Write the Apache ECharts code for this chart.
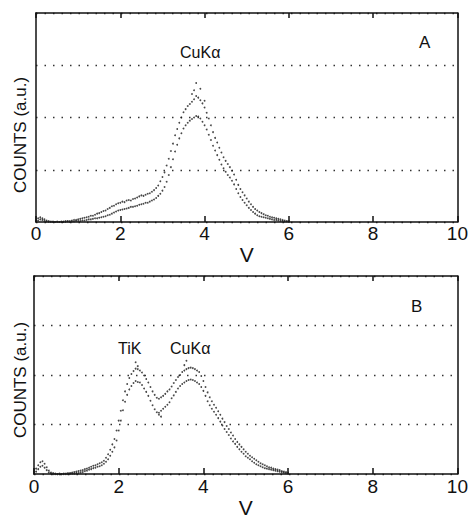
<!DOCTYPE html>
<html>
<head>
<meta charset="utf-8">
<script src="https://cdn.jsdelivr.net/npm/echarts@6/dist/echarts.min.js"></script>
<style>
  html, body { margin: 0; padding: 0; background: #fff; }
  #chart { width: 471px; height: 519px; }
</style>
</head>
<body>
<div id="chart"></div>
<script>
// pulse height (V), read every 0.05 V from 0 to 6
var volts = [
  0.00,0.05,0.10,0.15,0.20,0.25,0.30,0.35,0.40,0.45,
  0.50,0.55,0.60,0.65,0.70,0.75,0.80,0.85,0.90,0.95,
  1.00,1.05,1.10,1.15,1.20,1.25,1.30,1.35,1.40,1.45,
  1.50,1.55,1.60,1.65,1.70,1.75,1.80,1.85,1.90,1.95,
  2.00,2.05,2.10,2.15,2.20,2.25,2.30,2.35,2.40,2.45,
  2.50,2.55,2.60,2.65,2.70,2.75,2.80,2.85,2.90,2.95,
  3.00,3.05,3.10,3.15,3.20,3.25,3.30,3.35,3.40,3.45,
  3.50,3.55,3.60,3.65,3.70,3.75,3.80,3.85,3.90,3.95,
  4.00,4.05,4.10,4.15,4.20,4.25,4.30,4.35,4.40,4.45,
  4.50,4.55,4.60,4.65,4.70,4.75,4.80,4.85,4.90,4.95,
  5.00,5.05,5.10,5.15,5.20,5.25,5.30,5.35,5.40,5.45,
  5.50,5.55,5.60,5.65,5.70,5.75,5.80,5.85,5.90,5.95,
  6.00
];

// panel A : CuKa only (counts, a.u.)
var upperA = [
  0.03,0.07,0.09,0.07,0.05,0.03,0.02,0.01,0.01,0.00,
  0.01,0.00,0.01,0.01,0.02,0.02,0.02,0.03,0.04,0.04,
  0.05,0.06,0.07,0.08,0.09,0.10,0.12,0.12,0.14,0.16,
  0.17,0.19,0.21,0.22,0.25,0.27,0.30,0.31,0.34,0.36,
  0.37,0.39,0.38,0.41,0.42,0.41,0.44,0.45,0.47,0.49,
  0.51,0.50,0.52,0.54,0.55,0.58,0.61,0.65,0.70,0.78,
  0.86,0.95,1.08,1.21,1.36,1.50,1.66,1.78,1.90,2.00,
  2.10,2.16,2.22,2.26,2.30,2.35,2.41,2.38,2.33,2.27,
  2.19,2.09,1.98,1.85,1.72,1.61,1.52,1.42,1.33,1.24,
  1.17,1.11,1.05,0.98,0.91,0.81,0.71,0.63,0.57,0.51,
  0.45,0.39,0.34,0.29,0.25,0.22,0.19,0.17,0.15,0.13,
  0.12,0.10,0.09,0.08,0.07,0.06,0.05,0.04,0.03,0.02,
  0.02
];
var lowerA = [
  0.01,0.03,0.05,0.04,0.02,0.01,0.00,0.00,0.00,0.00,
  0.00,0.00,0.00,0.00,0.00,0.01,0.00,0.01,0.01,0.02,
  0.02,0.02,0.03,0.03,0.04,0.05,0.05,0.06,0.07,0.07,
  0.08,0.09,0.10,0.11,0.13,0.14,0.16,0.18,0.20,0.22,
  0.23,0.24,0.25,0.26,0.27,0.29,0.29,0.30,0.31,0.33,
  0.34,0.35,0.37,0.37,0.39,0.41,0.43,0.46,0.50,0.54,
  0.60,0.67,0.77,0.90,1.05,1.20,1.35,1.48,1.60,1.70,
  1.79,1.85,1.90,1.94,1.97,2.00,2.03,2.02,1.98,1.92,
  1.85,1.77,1.67,1.57,1.46,1.37,1.28,1.19,1.10,1.03,
  0.96,0.90,0.85,0.79,0.72,0.63,0.55,0.48,0.42,0.37,
  0.32,0.27,0.23,0.19,0.16,0.13,0.11,0.10,0.09,0.08,
  0.07,0.06,0.05,0.04,0.04,0.03,0.02,0.02,0.01,0.01,
  0.00
];
var strayA = [[3.80, 2.66], [3.75, 2.52], [3.90, 2.55], [3.70, 2.45], [4.00, 2.32]];

// panel B : TiK + CuKa
var upperB = [
  0.05,0.11,0.18,0.24,0.26,0.21,0.14,0.07,0.03,0.02,
  0.01,0.00,0.01,0.00,0.01,0.01,0.02,0.02,0.03,0.04,
  0.05,0.06,0.07,0.08,0.10,0.11,0.13,0.15,0.17,0.18,
  0.20,0.22,0.24,0.27,0.33,0.40,0.49,0.60,0.71,0.88,
  1.08,1.28,1.49,1.67,1.82,1.94,2.02,2.08,2.13,2.12,
  2.09,2.05,1.99,1.92,1.85,1.76,1.67,1.60,1.54,1.52,
  1.55,1.58,1.62,1.67,1.71,1.77,1.84,1.90,1.96,2.00,
  2.06,2.09,2.12,2.14,2.15,2.14,2.12,2.09,2.06,1.98,
  1.88,1.76,1.65,1.55,1.47,1.40,1.34,1.27,1.20,1.12,
  1.05,0.97,0.91,0.84,0.78,0.71,0.65,0.60,0.55,0.50,
  0.45,0.41,0.37,0.34,0.31,0.28,0.25,0.22,0.20,0.18,
  0.16,0.14,0.13,0.11,0.10,0.09,0.08,0.06,0.05,0.04,
  0.03
];
var lowerB = [
  0.01,0.05,0.10,0.15,0.17,0.13,0.08,0.03,0.01,0.00,
  0.00,0.00,0.00,0.00,0.00,0.00,0.00,0.01,0.01,0.01,
  0.02,0.02,0.03,0.04,0.06,0.07,0.09,0.10,0.12,0.13,
  0.15,0.16,0.18,0.21,0.25,0.30,0.37,0.45,0.54,0.68,
  0.88,1.08,1.29,1.46,1.60,1.71,1.78,1.84,1.88,1.86,
  1.85,1.80,1.73,1.66,1.58,1.48,1.39,1.31,1.25,1.24,
  1.28,1.32,1.36,1.40,1.45,1.53,1.59,1.66,1.73,1.78,
  1.82,1.85,1.88,1.90,1.91,1.90,1.88,1.85,1.82,1.76,
  1.68,1.58,1.47,1.39,1.32,1.26,1.20,1.13,1.06,0.98,
  0.91,0.85,0.79,0.72,0.66,0.61,0.55,0.50,0.45,0.41,
  0.36,0.33,0.30,0.26,0.23,0.20,0.18,0.16,0.14,0.12,
  0.11,0.10,0.09,0.08,0.07,0.06,0.05,0.04,0.03,0.02,
  0.01
];
var strayB = [[2.40, 2.26], [2.45, 2.18], [3.60, 2.29], [3.55, 2.20], [2.95, 1.20], [3.00, 1.16]];

var xTicks = [0, 2, 4, 6, 8, 10];

var chart = echarts.init(document.getElementById('chart'), null, { renderer: 'svg' });

var ink = '#111';
var font = 'Liberation Sans';

function pairs(ys) {
  return volts.map(function (v, i) { return [v, ys[i]]; });
}

function bottomAxis(grid, margin) {
  return {
    gridIndex: grid, type: 'value', min: 0, max: 10, interval: 2,
    name: 'V', nameLocation: 'middle', nameGap: 19,
    nameTextStyle: { color: ink, fontSize: 21, fontFamily: font },
    axisLine: { show: true, onZero: false, lineStyle: { color: ink, width: 1.5 } },
    axisTick: { show: true, inside: true, length: 6, lineStyle: { color: ink, width: 1.5 } },
    axisLabel: { color: ink, fontSize: 19, fontFamily: font, margin: margin,
      formatter: function (v) { return xTicks.indexOf(v) >= 0 ? String(v) : ''; } },
    splitLine: { show: false }
  };
}
function topAxis(grid) {
  return {
    gridIndex: grid, type: 'value', min: 0, max: 10, interval: 2, position: 'top',
    axisLine: { show: true, onZero: false, lineStyle: { color: ink, width: 1.5 } },
    axisTick: { show: true, inside: true, length: 5, lineStyle: { color: ink, width: 1.5 } },
    axisLabel: { show: false },
    splitLine: { show: false }
  };
}
function leftAxis(grid) {
  return {
    gridIndex: grid, type: 'value', min: 0, max: 4, interval: 1,
    axisLine: { show: true, onZero: false, lineStyle: { color: ink, width: 1.5 } },
    axisTick: { show: false },
    axisLabel: { show: false },
    splitLine: { show: true, lineStyle: { color: '#333', width: 1.3, type: [1.5, 7] } }
  };
}
function rightAxis(grid) {
  return {
    gridIndex: grid, type: 'value', min: 0, max: 4, position: 'right',
    axisLine: { show: true, onZero: false, lineStyle: { color: ink, width: 1.5 } },
    axisTick: { show: false }, axisLabel: { show: false }, splitLine: { show: false }
  };
}
function dots(x, y, data) {
  return {
    type: 'scatter', xAxisIndex: x, yAxisIndex: y, data: data,
    symbol: 'circle', symbolSize: 1.8, silent: true,
    itemStyle: { color: '#1a1a1a' }
  };
}
function label(text, x, y, size) {
  return { type: 'text', x: x, y: y,
    style: { text: text, fill: ink, fontSize: size, fontFamily: font } };
}
function sideLabel(x, y) {
  return { type: 'text', x: x, y: y, rotation: Math.PI / 2,
    style: { text: 'COUNTS (a.u.)', fill: ink, fontSize: 17, fontFamily: font,
      align: 'center', verticalAlign: 'middle' } };
}

chart.setOption({
  backgroundColor: '#fff',
  animation: false,
  grid: [
    { left: 36, right: 10, top: 13, height: 209 },
    { left: 34, right: 12, top: 276, height: 208 }
  ],
  xAxis: [bottomAxis(0, 2), topAxis(0), bottomAxis(1, 3), topAxis(1)],
  yAxis: [leftAxis(0), rightAxis(0), leftAxis(1), rightAxis(1)],
  series: [
    dots(0, 0, pairs(upperA)),
    dots(0, 0, pairs(lowerA)),
    dots(0, 0, strayA),
    dots(2, 2, pairs(upperB)),
    dots(2, 2, pairs(lowerB)),
    dots(2, 2, strayB)
  ],
  graphic: [
    label('CuKα', 180, 44, 16),
    label('A', 419, 34, 17),
    sideLabel(20, 135),
    label('TiK', 118, 340, 16),
    label('CuKα', 170, 340, 16),
    label('B', 411, 298, 17),
    sideLabel(20, 380)
  ]
});
</script>
</body>
</html>
